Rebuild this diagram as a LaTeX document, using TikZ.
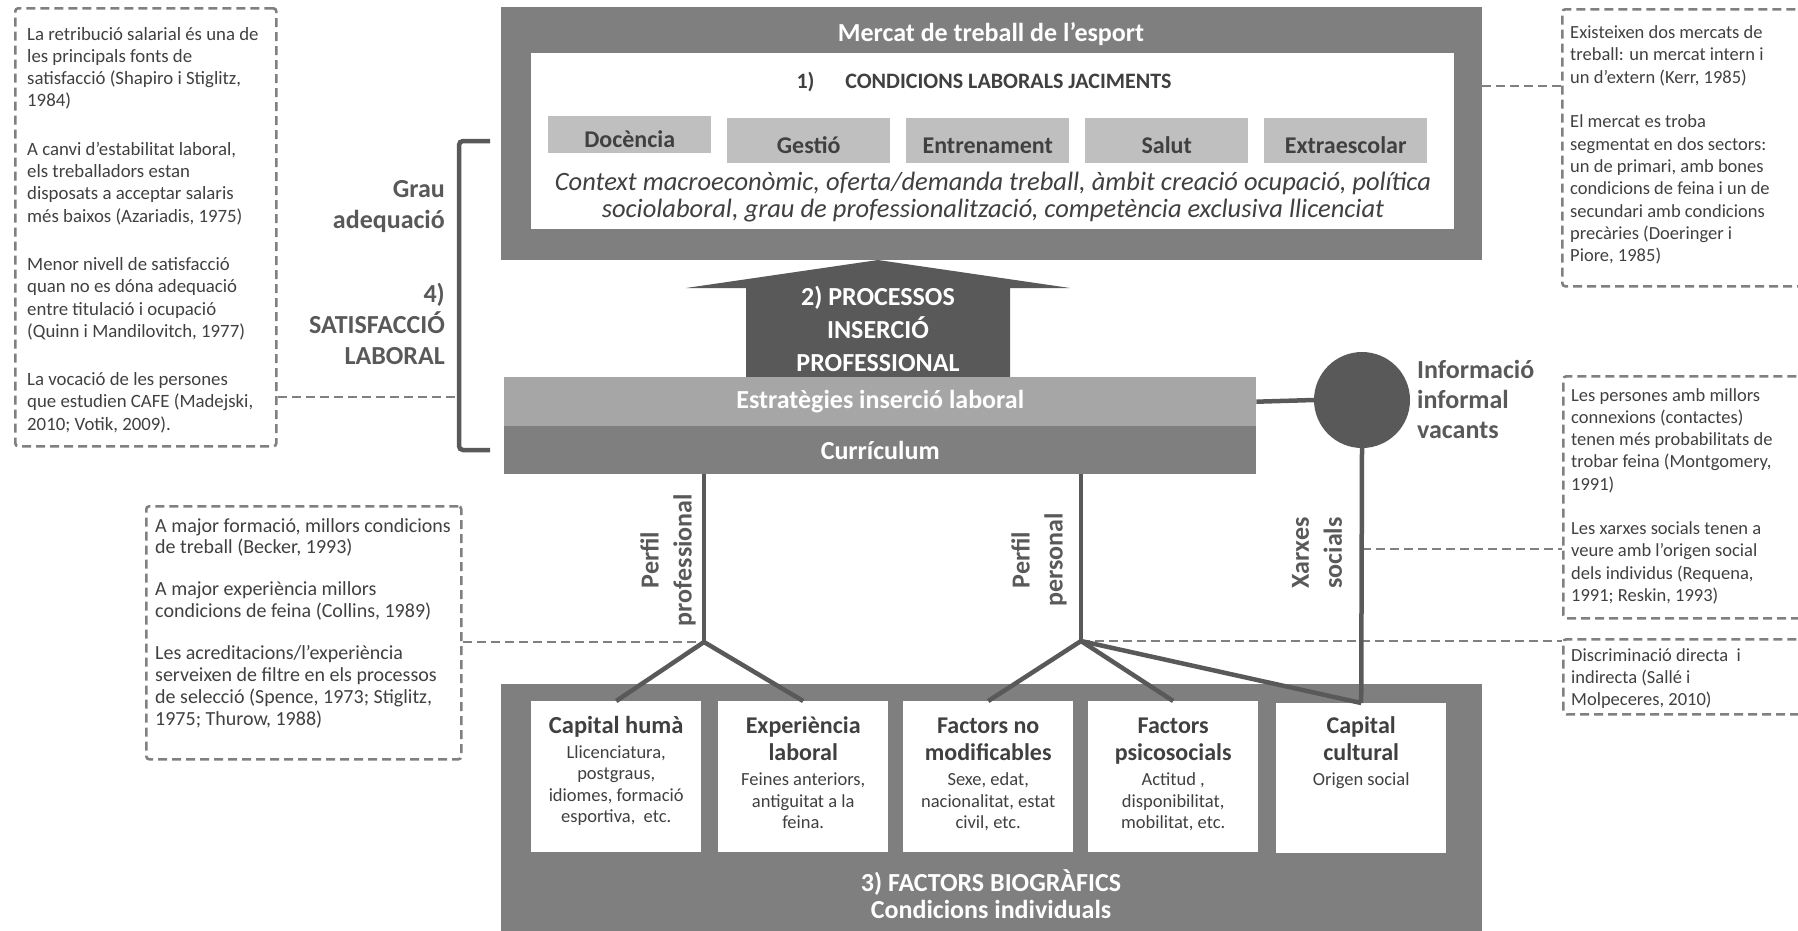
\documentclass[tikz,border=0pt]{standalone}
\usepackage{fontspec}
\setmainfont{Carlito}
\usetikzlibrary{calc}

\definecolor{darkgr}{HTML}{595959}
\definecolor{midgr}{HTML}{7F7F7F}
\definecolor{lightgr}{HTML}{A6A6A6}
\definecolor{paleg}{HTML}{BFBFBF}
\definecolor{inkgr}{HTML}{404040}
\definecolor{dashgr}{HTML}{808080}

\newcommand{\notefont}{\normalfont\fontsize{18.5}{22.3}\selectfont}
\newcommand{\labfont}{\normalfont\fontsize{26}{31}\selectfont\bfseries}
\newcommand{\headfont}{\normalfont\fontsize{24}{27.5}\selectfont\bfseries}
\newcommand{\bodyfont}{\normalfont\fontsize{18.5}{21.5}\selectfont}

\tikzset{
  panel/.style={fill=midgr, draw=none, inner sep=0pt, anchor=north west},
  whitebox/.style={fill=white, draw=none, inner sep=0pt, anchor=north west, minimum width=170pt, minimum height=151pt},
  catbox/.style={fill=paleg, inner sep=0pt, anchor=north west, minimum width=163pt,
    text height=26pt, text depth=0pt,
    font=\fontsize{24}{28}\selectfont\bfseries, text=inkgr},
  notebox/.style={draw=dashgr, line width=2.6pt, dash pattern=on 9pt off 5pt,
    rounded corners=3pt, inner sep=0pt, anchor=north west},
  notetext/.style={inner sep=0pt, anchor=base west, text=inkgr},
  link/.style={draw=dashgr, line width=2.6pt, dash pattern=on 9pt off 5pt},
  wire/.style={draw=darkgr, line width=4.5pt},
  tag/.style={inner sep=0pt, text=darkgr},
  boxtext/.style={inner sep=0pt, anchor=base, text=inkgr},
}

\begin{document}
\begin{tikzpicture}[x=1pt, y=-1pt]
\useasboundingbox (0,0) rectangle (1798,930);

% ---------- notes (dashed boxes) ----------
\node[notebox, minimum width=261pt, minimum height=438pt] (n1) at (14,7) {};
\node[notetext] (n1t) at (27,40) {\parbox[t]{245pt}{\normalfont\fontsize{18.8}{22.3}\selectfont\raggedright
La retribució salarial és una de\\les principals fonts de\\satisfacció (Shapiro i Stiglitz,\\1984)\par\vspace{26pt}
A canvi d’estabilitat laboral,\\els treballadors estan\\disposats a acceptar salaris\\més baixos (Azariadis, 1975)\par\vspace{26pt}
Menor nivell de satisfacció\\quan no es dóna adequació\\entre titulació i ocupació\\(Quinn i Mandilovitch, 1977)\par\vspace{26pt}
La vocació de les persones\\que estudien CAFE (Madejski,\\2010; Votik, 2009).}};

\node[notebox, minimum width=250pt, minimum height=277pt] (n2) at (1561,8) {};
\node[notetext] (n2t) at (1570,38.5) {\parbox[t]{225pt}{\notefont\raggedright
Existeixen dos mercats de\\treball: un mercat intern i\\un d’extern (Kerr, 1985)\par\vspace{22.5pt}
El mercat es troba\\segmentat en dos sectors:\\un de primari, amb bones\\condicions de feina i un de\\secundari amb condicions\\precàries (Doeringer i\\Piore, 1985)}};

\node[notebox, minimum width=250pt, minimum height=242pt] (n3) at (1562,375) {};
\node[notetext] (n3t) at (1571,401) {\parbox[t]{225pt}{\notefont\raggedright
Les persones amb millors\\connexions (contactes)\\tenen més probabilitats de\\trobar feina (Montgomery,\\1991)\par\vspace{22pt}
Les xarxes socials tenen a\\veure amb l’origen social\\dels individus (Requena,\\1991; Reskin, 1993)}};

\node[notebox, minimum width=250pt, minimum height=75pt] (n4) at (1562,638) {};
\node[notetext] (n4t) at (1571,661) {\parbox[t]{225pt}{\notefont\raggedright
Discriminació directa\ \ i\\indirecta (Sallé i\\Molpeceres, 2010)}};

\node[notebox, minimum width=315pt, minimum height=253pt] (n5) at (145,505) {};
\node[notetext] (n5t) at (155,532) {\parbox[t]{303pt}{\normalfont\fontsize{20}{21.9}\selectfont\raggedright
A major formació, millors condicions\\de treball (Becker, 1993)\par\vspace{20pt}
A major experiència millors\\condicions de feina (Collins, 1989)\par\vspace{20pt}
Les acreditacions/l’experiència\\serveixen de filtre en els processos\\de selecció (Spence, 1973; Stiglitz,\\1975; Thurow, 1988)}};

% ---------- top panel: labour market ----------
\node[panel, minimum width=981pt, minimum height=253pt] (top) at (501,7) {};
\node[whitebox, minimum width=923pt, minimum height=176pt] (inner) at (531,53) {};
\node[tag, anchor=base, text=white, font=\labfont] (mtitle) at (991,41) {Mercat de treball de l’esport};
\node[tag, anchor=base, text=inkgr, font=\normalfont\fontsize{22}{26}\selectfont\bfseries] (cond) at (984,88) {1)\hspace{1.4em}CONDICIONS LABORALS JACIMENTS};
\node[catbox, minimum height=37pt] (c1) at (548,116) {Docència};
\node[catbox, minimum height=45pt] (c2) at (727,118) {Gestió};
\node[catbox, minimum height=45pt] (c3) at (906,118) {Entrenament};
\node[catbox, minimum height=45pt] (c4) at (1085,118) {Salut};
\node[catbox, minimum height=45pt] (c5) at (1264,118) {Extraescolar};
\node[boxtext] (ctx) at (993,190) {\parbox[t]{915pt}{\centering\normalfont\itshape\fontsize{26.5}{27}\selectfont
Context macroeconòmic, oferta/demanda treball, àmbit creació ocupació, política\\
sociolaboral, grau de professionalització, competència exclusiva llicenciat}};

% ---------- bottom panel: biographical factors ----------
\node[panel, minimum width=981pt, minimum height=250pt] (bio) at (501,684) {};
\node[whitebox] (b1) at (531,701) {};
\node[whitebox] (b2) at (718,701) {};
\node[whitebox] (b3) at (903,701) {};
\node[whitebox] (b4) at (1088,701) {};
\node[whitebox, minimum height=150pt] (b5) at (1276,703) {};

\node[boxtext] (b1t) at ([yshift=-32pt]b1.north) {\parbox[t]{166pt}{\centering\normalfont\fontsize{24.5}{27.5}\selectfont\bfseries
Capital humà\par\vspace{3.5pt}\bodyfont Llicenciatura,\\postgraus,\\idiomes, formació\\esportiva,\ \ etc.}};
\node[boxtext] (b2t) at ([yshift=-32pt]b2.north) {\parbox[t]{166pt}{\centering\headfont
Experiència\\laboral\par\vspace{3.5pt}\bodyfont Feines anteriors,\\antiguitat a la\\feina.}};
\node[boxtext] (b3t) at ([yshift=-32pt]b3.north) {\parbox[t]{166pt}{\centering\headfont
Factors no\\modificables\par\vspace{3.5pt}\bodyfont Sexe, edat,\\nacionalitat, estat\\civil, etc.}};
\node[boxtext] (b4t) at ([yshift=-32pt]b4.north) {\parbox[t]{166pt}{\centering\headfont
Factors\\psicosocials\par\vspace{3.5pt}\bodyfont Actitud ,\\disponibilitat,\\mobilitat, etc.}};
\node[boxtext] (b5t) at ([yshift=-30pt]b5.north) {\parbox[t]{166pt}{\centering\headfont
Capital\\cultural\par\vspace{3.5pt}\bodyfont Origen social}};

\node[boxtext, text=white] (bioT) at (991,891) {\parbox[t]{600pt}{\centering\normalfont\fontsize{26}{27.5}\selectfont\bfseries
3) FACTORS BIOGRÀFICS\\Condicions individuals}};

% ---------- insertion arrow ----------
\fill[darkgr] (878,260) -- (1070,288) -- (1010,288) -- (1010,380) -- (746,380)
  -- (746,288) -- (686,288) -- cycle;
\node[boxtext, text=white] (proc) at (878,305.5) {\parbox[t]{300pt}{\centering\normalfont\fontsize{26}{33}\selectfont\bfseries
2) PROCESSOS\\INSERCIÓ\\PROFESSIONAL}};

% ---------- strategies / curriculum bars ----------
\node[panel, fill=lightgr, minimum width=752pt, minimum height=49pt, text=white, font=\labfont,
  anchor=north west] (strat) at (504,377) {Estratègies inserció laboral};
\node[panel, minimum width=752pt, minimum height=48pt, text=white, font=\labfont,
  anchor=north west] (curr) at (504,426) {Currículum};

% ---------- informal information ----------
\node[circle, fill=darkgr, minimum size=96pt, inner sep=0pt] (circ) at (1362,400) {};
\node[tag, anchor=base west] (info) at (1417,378) {\parbox[t]{200pt}{\raggedright\normalfont\fontsize{26}{30}\selectfont\bfseries
Informació\\informal\\vacants}};

% ---------- job satisfaction ----------
\node[tag, anchor=base east] (grau) at (445,197.5) {\parbox[t]{200pt}{\raggedleft\labfont
Grau\\adequació}};
\node[tag, anchor=base east] (sat) at (445,302.5) {\parbox[t]{200pt}{\raggedleft\labfont
4)\\SATISFACCIÓ\\LABORAL}};
\coordinate (brkTop) at (490,141);
\coordinate (brkBot) at (490,450);
\coordinate (brk) at (459,397);
\draw[wire, rounded corners=4pt] (brkTop) -- (brk |- brkTop) -- (brk |- brkBot) -- (brkBot);

% ---------- junctions ----------
\coordinate (jA) at (704,642);
\coordinate (jB) at (1081,641);
\coordinate (xs) at (1362,549);
\coordinate (n2p) at (1561,86);

% dashed references
\draw[link] (n1.east |- brk) -- (brk);
\draw[link] (top.east |- n2p) -- (n2p);
\draw[link] (xs) -- (xs -| n3.west);
\draw[link] (n5.east |- jA) -- (jA);
\draw[link] (jB) -- (jB -| n4.west);

% solid connectors
\draw[wire] (strat.east) -- (circ.west);
\draw[wire] (circ.south) -- (b5.north);
\draw[wire] (curr.south -| jA) -- (jA);
\draw[wire] (jA) -- (b1.north);
\draw[wire] (jA) -- (b2.north);
\draw[wire] (curr.south -| jB) -- (jB);
\draw[wire] (jB) -- (b3.north);
\draw[wire] (jB) -- (b4.north);
\draw[wire] (jB) -- (b5.north);

% rotated profile labels
\node[tag, rotate=90, align=center, font=\fontsize{26}{33}\selectfont\bfseries] (pprof) at (668,560) {Perfil\\professional};
\node[tag, rotate=90, align=center, font=\fontsize{26}{33}\selectfont\bfseries] (ppers) at (1039,560) {Perfil\\personal};
\node[tag, rotate=90, align=center, font=\fontsize{26}{33}\selectfont\bfseries] (xarx) at (1317,553) {Xarxes\\socials};
\end{tikzpicture}
\end{document}
